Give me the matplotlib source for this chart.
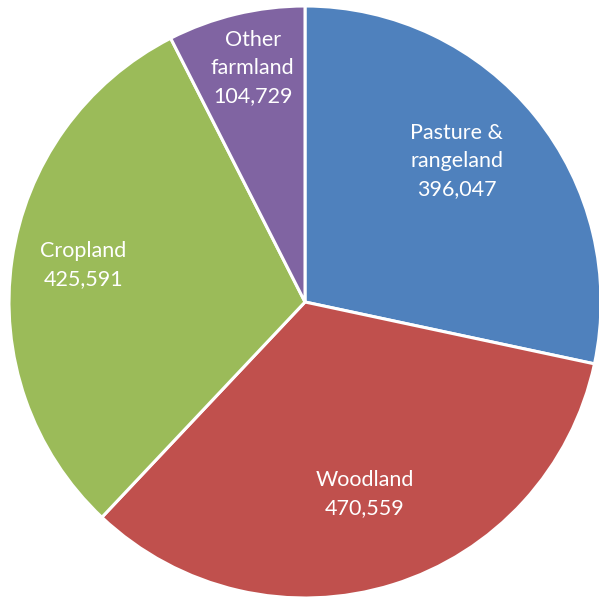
import matplotlib
matplotlib.use("Agg")
import matplotlib.pyplot as plt
import numpy as np

categories = ["Pasture &\nrangeland", "Woodland", "Cropland", "Other\nfarmland"]
values = [396047, 470559, 425591, 104729]
colors = ["#4F81BD", "#C0504D", "#9BBB59", "#8064A2"]

# label placement (style): radial distance and angle tweak per slice
label_dist = [0.70, 0.68, 0.76, 0.81]
label_dang = [4.0, 0.0, -1.4, -0.9]

fig = plt.figure(figsize=(5.99, 6.0), dpi=100)
ax = fig.add_axes([0, 0, 1, 1])
wedges, _ = ax.pie(values, colors=colors, startangle=90, counterclock=False,
                   radius=1.0, wedgeprops=dict(edgecolor="white", linewidth=2.2))
ax.set_aspect("auto")
cx, cy, R = 305, 302, 296
ax.set_xlim(-cx / R, (599 - cx) / R)
ax.set_ylim(-(600 - cy) / R, cy / R)
ax.axis("off")

for w, cat, val, d, da in zip(wedges, categories, values, label_dist, label_dang):
    ang = np.deg2rad((w.theta1 + w.theta2) / 2 + da)
    ax.text(d * np.cos(ang), d * np.sin(ang), f"{cat}\n{val:,}",
            ha="center", va="center", color="white", fontsize=15.5,
            family=["Lato", "DejaVu Sans"], linespacing=1.5)

fig.savefig("out.png", dpi=100)
